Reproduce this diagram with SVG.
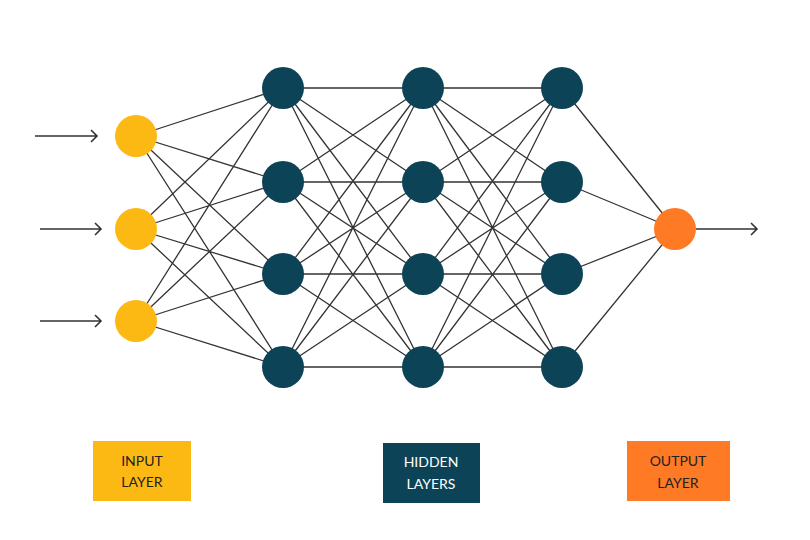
<svg xmlns="http://www.w3.org/2000/svg" width="810" height="540" viewBox="0 0 810 540">
<style>
.c{stroke:#333;stroke-width:1.3;fill:none}
.a{stroke:#333;stroke-width:1.6;fill:none}
.in{fill:#FDB913}.hid{fill:#0D4356}.out{fill:#FF7A25}
.t{font-family:"Lato","Liberation Sans",sans-serif;font-size:14px;text-anchor:middle}
</style>
<rect width="810" height="540" fill="#fff"/>
<g id="connectors">
<path class="c" d="M136 136L283 88M136 136L283 182M136 136L283 274M136 136L283 367M136 229L283 88M136 229L283 182M136 229L283 274M136 229L283 367M136 321L283 88M136 321L283 182M136 321L283 274M136 321L283 367"/>
<path class="c" d="M283 88L423 88M283 88L423 182M283 88L423 274M283 88L423 367M283 182L423 88M283 182L423 182M283 182L423 274M283 182L423 367M283 274L423 88M283 274L423 182M283 274L423 274M283 274L423 367M283 367L423 88M283 367L423 182M283 367L423 274M283 367L423 367"/>
<path class="c" d="M423 88L562 88M423 88L562 182M423 88L562 274M423 88L562 367M423 182L562 88M423 182L562 182M423 182L562 274M423 182L562 367M423 274L562 88M423 274L562 182M423 274L562 274M423 274L562 367M423 367L562 88M423 367L562 182M423 367L562 274M423 367L562 367"/>
<path class="c" d="M562 88L675 229M562 182L675 229M562 274L675 229M562 367L675 229"/>
<path class="a" d="M35 136H97M91 130L97 136L91 142M40 229H101M95 223L101 229L95 235M40 321H101M95 315L101 321L95 327M696 229H757M751 223L757 229L751 235"/>
</g>
<g id="input"><circle class="in" cx="136" cy="136" r="21"/><circle class="in" cx="136" cy="229" r="21"/><circle class="in" cx="136" cy="321" r="21"/></g>
<g id="hidden1"><circle class="hid" cx="283" cy="88" r="21"/><circle class="hid" cx="283" cy="182" r="21"/><circle class="hid" cx="283" cy="274" r="21"/><circle class="hid" cx="283" cy="367" r="21"/></g>
<g id="hidden2"><circle class="hid" cx="423" cy="88" r="21"/><circle class="hid" cx="423" cy="182" r="21"/><circle class="hid" cx="423" cy="274" r="21"/><circle class="hid" cx="423" cy="367" r="21"/></g>
<g id="hidden3"><circle class="hid" cx="562" cy="88" r="21"/><circle class="hid" cx="562" cy="182" r="21"/><circle class="hid" cx="562" cy="274" r="21"/><circle class="hid" cx="562" cy="367" r="21"/></g>
<g id="output"><circle class="out" cx="675" cy="229" r="21"/></g>
<g id="label-input"><rect class="in" x="93" y="441" width="98" height="60"/><text class="t" x="142" y="466" fill="#222">INPUT</text><text class="t" x="142" y="487" fill="#222">LAYER</text></g>
<g id="label-hidden"><rect class="hid" x="383" y="443" width="97" height="60"/><text class="t" x="431" y="467" fill="#fff">HIDDEN</text><text class="t" x="431" y="489" fill="#fff">LAYERS</text></g>
<g id="label-output"><rect class="out" x="627" y="441" width="103" height="60"/><text class="t" x="678" y="466" fill="#222">OUTPUT</text><text class="t" x="678" y="488" fill="#222">LAYER</text></g>
</svg>
